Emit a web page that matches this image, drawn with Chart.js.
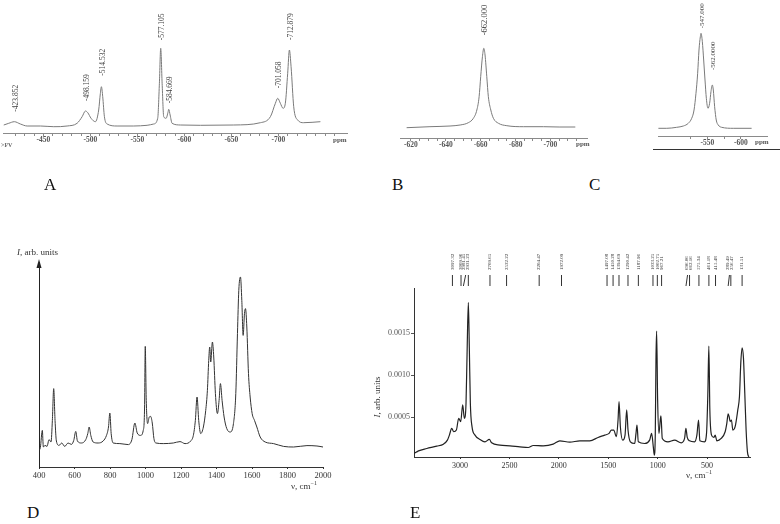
<!DOCTYPE html>
<html lang="en">
<head>
  <meta charset="UTF-8">
  <title>Spectra A-E</title>
  <script src="https://cdn.jsdelivr.net/npm/chart.js"></script>
  <style>
    body {
      margin: 0;
      background: white;
      width: 780px;
      height: 524px;
      position: relative;
      overflow: hidden;
      font-family: 'Liberation Serif', serif;
      color: #222;
    }
    canvas { position: absolute; }
    .t { position: absolute; white-space: nowrap; line-height: 1; }
    .letter { font-size: 17px; color: #111; }
    .ppm { font-size: 7px; font-weight: bold; color: #555; }
    .lbl { font-size: 9px; color: #333; }
    sup { font-size: 6px; }
  </style>
</head>
<body>
  <canvas id="chartA" width="360" height="160" style="left:0;top:0"></canvas>
  <canvas id="chartB" width="260" height="160" style="left:340px;top:0"></canvas>
  <canvas id="chartC" width="180" height="160" style="left:600px;top:0"></canvas>
  <canvas id="chartD" width="345" height="260" style="left:0;top:240px"></canvas>
  <canvas id="chartE" width="420" height="255" style="left:360px;top:245px"></canvas>

  <div class="t ppm" style="left:333px;top:137px">ppm</div>
  <div class="t ppm" style="left:576px;top:141px">ppm</div>
  <div class="t ppm" style="left:755px;top:139px">ppm</div>
  <div class="t" style="left:1px;top:142px;font-size:6px;font-weight:bold;color:#666">&gt;FV</div>
  <div style="position:absolute;left:653px;top:149px;width:127px;border-top:1px solid #333"></div>

  <div class="t lbl" style="left:17px;top:248px"><i>I</i>, arb. units</div>
  <div class="t lbl" style="left:291px;top:480px">ν, cm<sup>−1</sup></div>
  <div class="t lbl" style="left:377px;top:397px;transform:translate(-50%,-50%) rotate(-90deg)"><i>I</i>, arb. units</div>
  <div class="t lbl" style="left:686px;top:469px">ν, cm<sup>−1</sup></div>

  <div class="t letter" style="left:44px;top:176px">A</div>
  <div class="t letter" style="left:392px;top:176px">B</div>
  <div class="t letter" style="left:589px;top:176px">C</div>
  <div class="t letter" style="left:27px;top:504px">D</div>
  <div class="t letter" style="left:410px;top:504px">E</div>

  <script type="text/javascript">
    // A: NMR spectrum, ppm
    const aPpm = [-407.8,-413.1,-419.1,-425.5,-432.7,-446.8,-461.0,-475.2,-485.8,-491.2,
      -494.7,-497.2,-500.7,-505.3,-508.8,-510.6,-511.7,-513.1,-514.9,-517.8,
      -528.4,-546.1,-560.3,-567.3,-571.6,-573.4,-574.8,-576.3,-578.0,-580.5,
      -582.7,-583.3,-584.8,-586.9,-595.7,-617.0,-652.5,-680.9,-691.5,-696.8,
      -699.3,-702.1,-705.0,-707.4,-709.9,-711.7,-713.5,-716.3,-720.5,-726.9,-744.7];
    const aInt = [8.0,9.7,11.3,9.0,7.0,7.0,6.3,7.0,9.7,16.3,
      22.0,20.3,14.7,11.3,23.0,39.7,46.3,36.3,16.3,9.0,
      7.0,7.0,7.7,9.0,14.7,49.7,84.7,49.7,16.3,14.7,
      21.3,23.7,18.0,9.7,8.0,7.7,8.0,10.3,16.3,29.7,
      34.7,29.7,24.7,29.7,59.7,83.0,66.3,26.3,13.0,10.3,11.3];
    const aPeakPos = [-419.1,-494.7,-511.7,-574.8,-583.3,-699.3,-711.7];
    const aPeakText = ['-423.852','-498.159','-514.532','-577.105','-584.669','-701.058','-712.879'];

    // B
    const bPpm = [-617.5,-630.9,-642.4,-648.2,-652.9,-655.8,-657.8,-659.1,-660.0,-661.0,-661.8,
      -662.5,-663.5,-664.4,-665.8,-667.3,-670.2,-675.0,-684.5,-696.0,-705.0,-714.3];
    const bInt = [10.3,11.3,12.0,13.0,15.3,19.7,28.0,41.3,61.3,81.3,89.7,
      83.0,61.3,41.3,28.0,19.7,14.7,12.3,11.3,11.3,11.0,11.0];
    const bPeakPos = [-661.8];
    const bPeakText = ['-662.000'];

    // C
    const cPpm = [-476.6,-489.1,-504.0,-513.9,-521.3,-526.4,-529.9,-532.8,-535.3,-537.3,
      -539.3,-540.3,-542.3,-544.3,-546.3,-548.3,-550.7,-553.2,-555.2,-557.2,
      -558.7,-560.7,-563.1,-566.1,-571.2,-588.5,-616.0];
    const cInt = [7.7,7.7,8.7,10.0,12.7,17.7,26.0,42.7,62.7,86.0,
      99.3,102.7,94.3,76.0,56.0,37.7,27.7,32.7,44.3,51.0,
      46.0,29.3,16.0,11.0,8.7,7.7,7.7];
    const cPeakPos = [-540.3,-557.2];
    const cPeakText = ['-547.000','-562.0000'];

    // D: Raman, 400-2000 cm-1
    const dNu = [400,407.5,418.8,424.5,433.9,445.2,456.5,467.8,475.3,482.8,490.4,497.9,512.9,528.0,
      544.9,563.8,582.6,595.8,607.1,616.5,639.1,663.5,674.8,682.4,691.8,704.9,733.2,761.4,780.2,
      791.5,799.1,806.6,817.9,855.5,902.6,923.3,940.2,953.4,972.2,987.3,994.8,998.6,1004.2,1011.8,
      1021.2,1028.7,1038.1,1047.5,1058.8,1100.2,1156.7,1194.4,1222.6,1254.6,1269.6,1280.9,1290.4,
      1299.8,1311.1,1326.1,1339.3,1348.7,1356.2,1361.9,1367.5,1376.9,1384.5,1393.9,1405.2,1414.6,
      1422.1,1431.5,1442.8,1457.9,1476.7,1495.5,1508.7,1518.1,1525.6,1535.1,1542.6,1550.1,1557.6,
      1563.3,1570.8,1580.2,1589.6,1600.9,1614.1,1627.3,1646.1,1674.4,1721.4,1777.9,1834.4,1909.6,
      1966.1,2000];
    const dInt = [8.3,9.7,18.3,10.0,10.8,10.3,13.7,12.5,23.3,39.2,23.3,13.0,10.8,12.0,
      10.3,12.0,11.3,13.3,17.8,13.0,12.0,13.7,16.7,20.0,15.8,12.5,12.0,13.0,15.8,
      20.0,27.0,16.7,12.0,11.7,11.2,13.7,22.0,17.0,15.8,18.3,30.0,60.3,33.3,21.7,
      25.0,25.3,22.0,14.2,12.0,11.7,12.0,12.7,11.7,13.0,15.8,23.3,35.0,
      23.3,16.7,20.0,28.3,38.3,53.3,60.0,52.5,62.5,55.0,36.7,26.7,33.3,
      41.7,33.3,25.0,19.2,17.5,21.7,36.7,66.7,88.3,95.0,83.3,65.8,76.7,
      79.2,70.0,46.7,35.0,26.7,23.3,20.0,15.0,12.5,11.7,10.3,10.0,10.7,
      10.5,10.0];
    const dXTicks = [400, 600, 800, 1000, 1200, 1400, 1600, 1800, 2000];

    // E: Raman, 3466-65 cm-1
    const eNu = [3464.6,3420.9,3336.7,3235.7,3168.4,3127.9,3107.7,3084.2,3064.0,3037.0,3013.5,2993.3,
      2973.1,2956.2,2939.4,2929.3,2915.8,2905.7,2895.6,2878.8,2848.5,2798.0,2747.5,2703.7,2680.1,
      2596.0,2494.9,2393.9,2309.8,2259.3,2158.2,2057.2,1989.9,1888.9,1787.9,1686.9,1602.7,1535.4,
      1491.6,1468.0,1444.4,1417.5,1400.7,1390.6,1377.1,1353.5,1329.9,1313.1,1299.7,1276.1,1232.3,
      1218.9,1208.8,1195.3,1131.3,1080.8,1060.6,1043.8,1033.7,1023.6,1016.8,1010.1,1000.0,986.5,
      973.1,966.3,952.9,895.6,828.3,760.9,727.3,713.8,700.3,676.8,626.3,602.7,585.9,572.4,525.3,
      505.1,491.6,481.5,471.4,454.5,431.0,417.5,400.7,356.9,316.5,299.7,286.2,276.1,266.0,252.5,
      239.1,215.5,188.6,171.7,158.2,144.8,131.3,117.8,104.4,90.9,77.4];
    const eInt = [0.000068,0.000100,0.000128,0.000156,0.000180,0.000228,0.000288,0.000368,0.000328,0.000348,0.000488,0.000448,
      0.000648,0.000488,0.000668,0.001228,0.001868,0.001308,0.000668,0.000388,0.000288,0.000236,0.000208,0.000236,0.000196,
      0.000168,0.000160,0.000148,0.000140,0.000164,0.000160,0.000180,0.000220,0.000204,0.000220,0.000220,0.000260,0.000288,
      0.000308,0.000348,0.000348,0.000268,0.000468,0.000688,0.000388,0.000228,0.000288,0.000588,0.000348,0.000208,0.000188,
      0.000308,0.000408,0.000208,0.000188,0.000228,0.000308,0.000148,0.000048,0.000308,0.001188,0.001528,0.000708,0.000308,
      0.000468,0.000516,0.000248,0.000208,0.000228,0.000196,0.000248,0.000368,0.000260,0.000220,0.000208,0.000288,0.000468,0.000220,0.000208,
      0.000308,0.000788,0.001348,0.000588,0.000288,0.000260,0.000288,0.000220,0.000248,0.000328,0.000428,0.000540,0.000508,0.000448,0.000468,
      0.000348,0.000388,0.000588,0.000748,0.001148,0.001328,0.001208,0.000788,0.000348,0.000088,0.000028];
    const eXTicks = [3000, 2500, 2000, 1500, 1000, 500];
    const eYTicks = [0.0005, 0.0010, 0.0015];
    const eLabelText = ['3097.32','3009.96','2981.45','2931.23','2709.65','2532.22','2204.47','1972.09',
      '1497.08','1450.28','1394.69','1290.42','1187.96','1033.25','1002.75','967.21',
      '696.06','662.16','575.34','461.18','415.48','289.49','256.47','131.51'];
    const eLabelAt = [3077,2990,2960,2926,2697,2529,2199,1973,1512,1451,1391,1300,1195,1047,1003,960,
      704,670,582,481,414,286,253,145];
    const eLineTop = [3077,2990,2943,2916,2697,2529,2199,1973,1512,1451,1391,1300,1195,1047,1003,960,
      697,677,582,481,414,273,259,145];
    const eLineBottom = [3077,2990,2966,2916,2697,2529,2199,1973,1512,1451,1391,1300,1195,1047,1003,960,
      713,677,582,481,414,286,259,145];

    const serif = 'Liberation Serif';

    // rotated value labels above the NMR peaks
    const peakLabels = {
      id: 'peakLabels',
      afterDatasetsDraw(chart, args, opts) {
        if (!opts.pos) return;
        const ctx = chart.ctx;
        const x = chart.scales.x, y = chart.scales.y;
        const pts = chart.data.datasets[0].data;
        ctx.save();
        ctx.font = opts.font;
        ctx.fillStyle = opts.color;
        ctx.textBaseline = 'middle';
        opts.pos.forEach((p, i) => {
          let top = 0;
          pts.forEach(d => { if (Math.abs(d.x - p) < 2 && d.y > top) top = d.y; });
          const px = x.getPixelForValue(p) + opts.dx;
          const py = y.getPixelForValue(top) - opts.gaps[i];
          ctx.save();
          ctx.translate(px, py);
          ctx.rotate(-Math.PI / 2);
          ctx.fillText(opts.text[i], 0, 0);
          ctx.restore();
        });
        ctx.restore();
      }
    };

    const arrowUp = {
      id: 'arrowUp',
      afterDraw(chart) {
        const {ctx, chartArea} = chart;
        ctx.save();
        ctx.fillStyle = '#222';
        ctx.beginPath();
        ctx.moveTo(chartArea.left, chartArea.top - 3);
        ctx.lineTo(chartArea.left - 2.5, chartArea.top + 6);
        ctx.lineTo(chartArea.left + 2.5, chartArea.top + 6);
        ctx.closePath();
        ctx.fill();
        ctx.restore();
      }
    };

    const eMarks = {
      id: 'eMarks',
      afterDraw(chart) {
        const {ctx, chartArea} = chart;
        const x = chart.scales.x;
        ctx.save();
        ctx.strokeStyle = '#333';
        ctx.lineWidth = 1;
        eLineTop.forEach((v, i) => {
          ctx.beginPath();
          ctx.moveTo(x.getPixelForValue(v), chartArea.top - 13);
          ctx.lineTo(x.getPixelForValue(eLineBottom[i]), chartArea.top - 2);
          ctx.stroke();
        });
        ctx.font = '5px "' + serif + '"';
        ctx.fillStyle = '#333';
        ctx.textBaseline = 'middle';
        eLabelAt.forEach((v, i) => {
          ctx.save();
          ctx.translate(x.getPixelForValue(v), chartArea.top - 18);
          ctx.rotate(-Math.PI / 2);
          ctx.fillText(eLabelText[i], 0, 0);
          ctx.restore();
        });
        ctx.restore();
      }
    };

    function makeChart(id, xs, ys, cfg) {
      return new Chart(document.getElementById(id), {
        type: 'line',
        data: {
          datasets: [{
            data: xs.map((v, i) => ({x: v, y: ys[i]})),
            borderColor: cfg.color,
            borderWidth: cfg.width,
            pointRadius: 0,
            cubicInterpolationMode: 'monotone',
            fill: false
          }]
        },
        options: {
          responsive: false,
          animation: false,
          events: [],
          layout: { padding: cfg.padding, autoPadding: false },
          plugins: {
            legend: { display: false },
            tooltip: { enabled: false },
            peakLabels: cfg.peaks || {}
          },
          scales: { x: cfg.x, y: cfg.y }
        },
        plugins: cfg.plugins
      });
    }

    function ppmAxis(min, max, step, every, lo, hi, color) {
      return {
        type: 'linear', reverse: true, min: min, max: max,
        afterFit: s => { s.height = 15; },
        afterBuildTicks: s => { s.ticks = s.ticks.filter(t => Math.abs(t.value % step) < 1e-6); },
        ticks: {
          stepSize: step, autoSkip: false, maxRotation: 0, minRotation: 0, padding: 0,
          font: { family: serif, size: 7.5, weight: 'bold' }, color: '#555',
          callback: v => (v % every === 0 && v <= hi && v >= lo) ? String(v) : ''
        },
        grid: { drawOnChartArea: false, tickLength: 3, color: color },
        border: { color: color }
      };
    }

    makeChart('chartA', aPpm, aInt, {
      color: '#7a7a7a', width: 1,
      padding: { left: 3, right: 13, top: 0, bottom: 12 },
      x: ppmAxis(-773, -407, 10, 50, -700, -450, '#8a8a8a'),
      y: { display: false, min: 0, max: 133 },
      peaks: { pos: aPeakPos, text: aPeakText, gaps: [10, 10, 11, 8, 6, 10, 10], dx: 1.5,
        font: '7.5px "' + serif + '"', color: '#444' },
      plugins: [peakLabels]
    });

    makeChart('chartB', bPpm, bInt, {
      color: '#7a7a7a', width: 1,
      padding: { left: 60, right: 13, top: 0, bottom: 7 },
      x: ppmAxis(-721, -613.7, 5, 20, -700, -620, '#8a8a8a'),
      y: { display: false, min: 0, max: 138 },
      peaks: { pos: bPeakPos, text: bPeakText, gaps: [13], dx: 1,
        font: '8.5px "' + serif + '"', color: '#444' },
      plugins: [peakLabels]
    });

    makeChart('chartC', cPpm, cInt, {
      color: '#7a7a7a', width: 1,
      padding: { left: 58, right: 13, top: 0, bottom: 9 },
      x: ppmAxis(-639, -476, 25, 50, -600, -500, '#8a8a8a'),
      y: { display: false, min: 0, max: 136 },
      peaks: { pos: cPeakPos, text: cPeakText, gaps: [5, 15], dx: 1,
        font: '7px "' + serif + '"', color: '#444' },
      plugins: [peakLabels]
    });

    makeChart('chartD', dNu, dInt, {
      color: '#333', width: 1,
      padding: { left: 39, right: 22, top: 22, bottom: 19 },
      x: {
        type: 'linear', min: 400, max: 2000,
        afterFit: s => { s.height = 14; },
        afterBuildTicks: s => { s.ticks = dXTicks.map(v => ({value: v})); },
        ticks: { autoSkip: false, maxRotation: 0, padding: 2,
          font: { family: serif, size: 8.5 }, color: '#333',
          callback: v => String(v) },
        grid: { drawOnChartArea: false, tickLength: 2, color: '#333' },
        border: { color: '#333' }
      },
      y: {
        min: 0, max: 102.5,
        afterFit: s => { s.width = 0; },
        ticks: { display: false },
        grid: { display: false },
        border: { color: '#222', width: 1 }
      },
      plugins: [arrowUp]
    });

    makeChart('chartE', eNu, eInt, {
      color: '#222', width: 1.2,
      padding: { left: 8, right: 30, top: 43, bottom: 29 },
      x: {
        type: 'linear', reverse: true, min: 65, max: 3466,
        afterFit: s => { s.height = 14; },
        afterBuildTicks: s => { s.ticks = eXTicks.map(v => ({value: v})); },
        ticks: { autoSkip: false, maxRotation: 0, padding: 2,
          font: { family: serif, size: 8 }, color: '#333',
          callback: v => String(v) },
        grid: { drawOnChartArea: false, tickLength: 2, color: '#333' },
        border: { color: '#333' }
      },
      y: {
        min: 0.000027, max: 0.00204,
        afterFit: s => { s.width = 46; },
        afterBuildTicks: s => { s.ticks = eYTicks.map(v => ({value: v})); },
        ticks: { padding: 1, font: { family: serif, size: 8 }, color: '#555',
          callback: v => v.toFixed(4) },
        grid: { drawOnChartArea: false, tickLength: 3, color: '#555' },
        border: { color: '#333' }
      },
      plugins: [eMarks]
    });
  </script>
</body>
</html>
